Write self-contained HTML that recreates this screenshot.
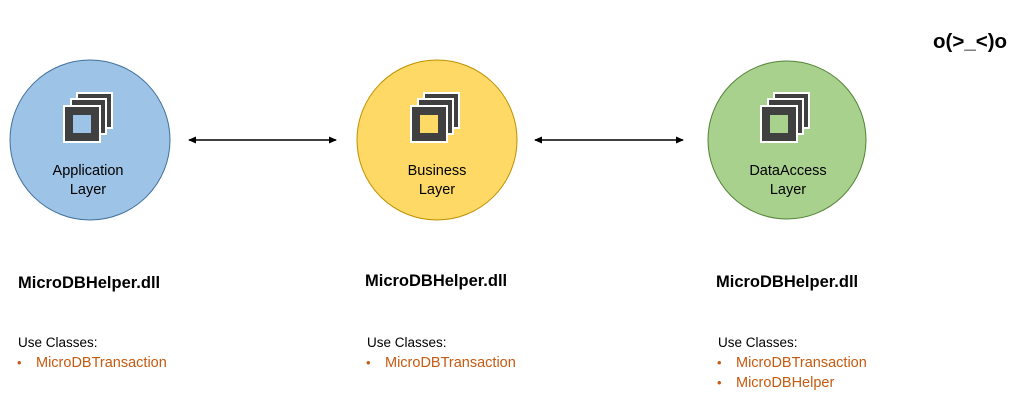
<!DOCTYPE html>
<html><head><meta charset="utf-8"><style>
html,body{margin:0;padding:0;background:#fff;}
svg{display:block;font-family:"Liberation Sans",sans-serif;}
</style></head><body>
<svg width="1018" height="415" viewBox="0 0 1018 415" xmlns="http://www.w3.org/2000/svg">
<defs>
<marker id="ah" markerWidth="8" markerHeight="8" refX="7" refY="4" orient="auto-start-reverse" markerUnits="userSpaceOnUse">
<path d="M0,0.5 L8,4 L0,7.5 z" fill="#000"/></marker>
</defs>
<text x="933" y="48" font-size="20.5" font-weight="bold" fill="#000">o(&gt;_&lt;)o</text>

<circle cx="90" cy="140" r="80" fill="#9dc3e6" stroke="#41719c" stroke-width="1"/>
<circle cx="437" cy="140" r="80" fill="#ffd966" stroke="#bf9000" stroke-width="1"/>
<circle cx="787" cy="140" r="79" fill="#a9d18e" stroke="#548235" stroke-width="1"/>

<g stroke="#fff" stroke-width="2" fill="#404040">
<rect x="77" y="93" width="35" height="35"/>
<rect x="71" y="99" width="35" height="35"/>
<rect x="64" y="106" width="36" height="36"/>
<rect x="73" y="115" width="18" height="18" fill="#9dc3e6" stroke="none"/>
</g>
<g transform="translate(347,0)" stroke="#fff" stroke-width="2" fill="#404040">
<rect x="77" y="93" width="35" height="35"/>
<rect x="71" y="99" width="35" height="35"/>
<rect x="64" y="106" width="36" height="36"/>
<rect x="73" y="115" width="18" height="18" fill="#ffd966" stroke="none"/>
</g>
<g transform="translate(697,0)" stroke="#fff" stroke-width="2" fill="#404040">
<rect x="77" y="93" width="35" height="35"/>
<rect x="71" y="99" width="35" height="35"/>
<rect x="64" y="106" width="36" height="36"/>
<rect x="73" y="115" width="18" height="18" fill="#a9d18e" stroke="none"/>
</g>

<g font-size="14.5" fill="#000" text-anchor="middle">
<text x="88" y="175">Application</text><text x="88" y="194">Layer</text>
<text x="437" y="175">Business</text><text x="437" y="194">Layer</text>
<text x="788" y="175">DataAccess</text><text x="788" y="194">Layer</text>
</g>

<line x1="189" y1="140" x2="336" y2="140" stroke="#000" stroke-width="1.5" marker-start="url(#ah)" marker-end="url(#ah)"/>
<line x1="535" y1="140" x2="683" y2="140" stroke="#000" stroke-width="1.5" marker-start="url(#ah)" marker-end="url(#ah)"/>

<g font-size="16.5" font-weight="bold" fill="#000">
<text x="18" y="288">MicroDBHelper.dll</text>
<text x="365" y="286">MicroDBHelper.dll</text>
<text x="716" y="287">MicroDBHelper.dll</text>
</g>
<g font-size="13.5" fill="#000">
<text x="18" y="347">Use Classes:</text>
<text x="367" y="347">Use Classes:</text>
<text x="718" y="347">Use Classes:</text>
</g>
<g font-size="14.5" fill="#c55a11">
<text x="17" y="367" font-size="13">•</text><text x="36" y="367">MicroDBTransaction</text>
<text x="366" y="367" font-size="13">•</text><text x="385" y="367">MicroDBTransaction</text>
<text x="717" y="367" font-size="13">•</text><text x="736" y="367">MicroDBTransaction</text>
<text x="717" y="387" font-size="13">•</text><text x="736" y="387">MicroDBHelper</text>
</g>
</svg>
</body></html>
